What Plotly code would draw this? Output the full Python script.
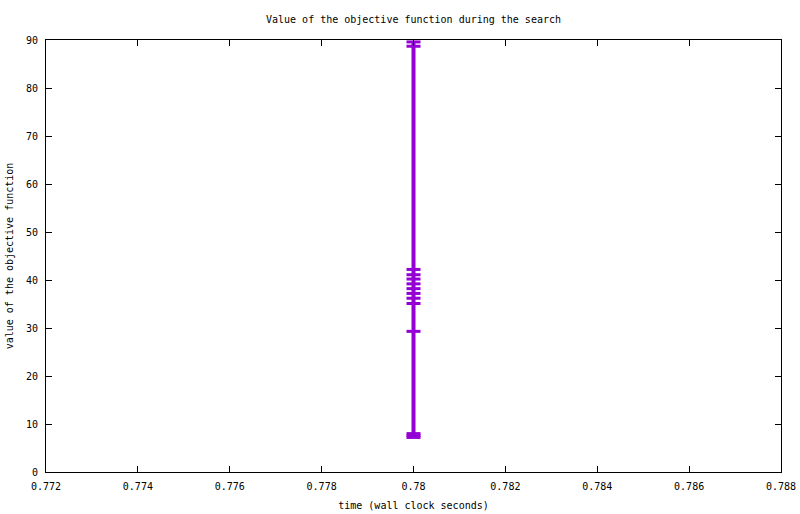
import plotly.graph_objects as go

# objective function values found during the search (all at the same wall clock time)
times = [0.78] * 14
values = [7.2, 7.6, 8.0, 29.3, 35.1, 36.2, 37.2, 38.2, 39.2, 40.2, 41.1, 42.2, 88.7, 89.6]

x_ticks = [0.772, 0.774, 0.776, 0.778, 0.78, 0.782, 0.784, 0.786, 0.788]
x_labels = ["0.772", "0.774", "0.776", "0.778", "0.78", "0.782", "0.784", "0.786", "0.788"]

fig = go.Figure()
fig.add_trace(go.Scatter(x=times, y=values, mode='lines+markers',
                         line=dict(color='#9400D3', width=4),
                         marker=dict(symbol='line-ew', size=10, line=dict(color='#9400D3', width=3)),
                         showlegend=False))

axis_font = dict(family='DejaVu Sans Mono', size=10, color='black')
fig.update_layout(
    width=800, height=514,
    margin=dict(l=46, r=19, t=40, b=42),
    plot_bgcolor='white', paper_bgcolor='white',
    title=dict(text='Value of the objective function during the search', xref='paper', x=0.5, xanchor='center',
               y=0.963, yanchor='middle', font=axis_font),
    font=axis_font,
)
fig.update_xaxes(range=[0.772, 0.788], tickvals=x_ticks, ticktext=x_labels, automargin=False,
                 ticks='inside', ticklen=6, tickcolor='black', mirror='ticks', ticklabelstandoff=5,
                 showline=True, linecolor='black', linewidth=1, showgrid=False, zeroline=False,
                 title=dict(text='time (wall clock seconds)', standoff=10, font=axis_font))
fig.update_yaxes(range=[0, 90], dtick=10, automargin=False,
                 ticks='inside', ticklen=6, tickcolor='black', mirror='ticks', ticklabelstandoff=5,
                 showline=True, linecolor='black', linewidth=1, showgrid=False, zeroline=False,
                 title=dict(text='value of the objective function', standoff=10, font=axis_font))

# drop the default page margin so the figure sits at the window's top-left corner
fig.write_html("out.html", config={'displayModeBar': False},
               post_script="document.body.style.margin='0px';")
